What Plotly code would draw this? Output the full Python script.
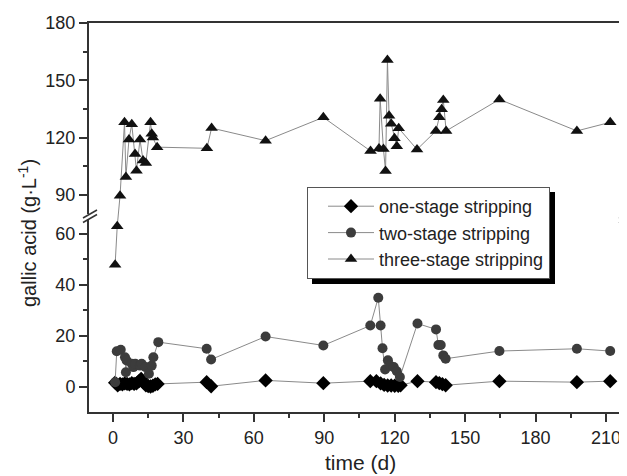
import plotly.graph_objects as go

# ---------------- data ----------------
days_one = [0.9, 2, 3, 4, 5, 6, 7, 8, 9, 10, 11, 12, 13, 14, 15, 16, 17, 18, 19,
            39.9, 41.8, 65.0, 89.6, 109.6, 112.2, 114, 115.5, 117, 118.5, 120, 121.5, 122.5,
            129.7, 137.6, 139, 140.3, 141.7, 164.6, 197.6, 211.8]
vals_one = [1.5, 0.5, 1.0, 0.8, 1.2, 1.0, 0.8, 1.3, 1.0, 1.2, 2.0, 3.0, 1.5, 0.5, 0.2, 0.0, 0.3, 0.8, 1.0,
            1.7, 0.1, 2.4, 1.3, 2.1, 2.1, 1.2, 0.6, 0.4, 0.4, 0.3, 0.3, 0.5,
            2.1, 1.7, 1.3, 0.9, 0.5, 2.1, 1.7, 2.1]

days_two = [0.9, 1.6, 3.3, 5.1, 5.5, 5.8, 8.0, 8.7, 9.5, 11.5, 12.2, 13.9, 15.3, 16.5, 17.2, 19.3,
            39.9, 41.8, 65.0, 89.6, 109.6, 113.0, 114.0, 114.8, 115.9, 117.1, 118.0, 119.6, 120.9, 122.2,
            129.7, 137.6, 138.6, 139.6, 140.7, 141.7, 164.6, 197.6, 211.8]
vals_two = [1.7, 13.8, 14.4, 11.5, 5.6, 10.2, 8.9, 7.6, 8.9, 8.2, 8.9, 7.6, 5.0, 8.2, 11.5, 17.4,
            14.8, 10.6, 19.6, 16.1, 23.9, 34.8, 23.9, 15.0, 6.7, 10.3, 8.2, 7.6, 6.0, 3.7,
            24.7, 22.4, 16.3, 16.3, 12.2, 10.9, 13.9, 14.8, 13.9]

days_three = [0.9, 1.8, 3.0, 4.9, 5.5, 6.8, 8.0, 9.4, 10.0, 11.5, 12.8, 14.0, 16.0, 16.5, 17.0, 18.8,
              40.0, 42.0, 65.0, 89.6, 109.7, 113.3, 113.8, 115.2, 116.1, 116.9, 117.6, 118.5, 119.9, 120.9, 121.7,
              129.5, 137.6, 139.0, 140.0, 140.7, 141.9, 164.6, 197.6, 211.8]
vals_three = [47.7, 62.8, 89.6, 128, 99.4, 119, 127, 111.4, 102.6, 119, 108, 106.7, 128, 122, 120, 115,
              114.4, 125, 118.4, 130.6, 113, 114.3, 140.3, 114, 102.5, 160.6, 131.4, 127.3, 119.6, 115.5, 124.9,
              113.8, 123.5, 130.6, 134.8, 139.7, 123.5, 140, 123.5, 128]

x_ticks = [0, 30, 60, 90, 120, 150, 180, 210]
y_ticks = [0, 20, 40, 60, 90, 120, 150, 180]
y_minor = [10, 30, 50, 105, 135, 165]

# ---------------- broken-axis scale ----------------
LOW_MIN, LOW_MAX, LOW_K = -10, 65, 2.55     # lower segment
UP_MIN, UP_MAX, UP_K = 80, 180, 1.91        # upper segment
GAP = 6.75


def brk(v):
    if v <= 72:
        return (v - LOW_MIN) * LOW_K
    return (LOW_MAX - LOW_MIN) * LOW_K + GAP + (v - UP_MIN) * UP_K


Y_TOP = brk(UP_MAX)

# page has an 8px body margin; figure sized so it fits the 627x476 window
OFF = 8
W, H = 627 - OFF, 476 - OFF
# plot area in page pixels
PL, PR, PT, PB = 89, 627, 23, 412
ML, MR, MT, MB = PL - OFF, (W + OFF) - PR, PT - OFF, (H + OFF) - PB
PW, PH = PR - PL, PB - PT


def px(x):
    return (x - PL) / PW


def py(y):
    return (PB - y) / PH


FONT = "Liberation Sans, Arial, sans-serif"
LINE = "#8a8a8a"

fig = go.Figure()
fig.add_trace(go.Scatter(
    x=days_one, y=[brk(v) for v in vals_one], mode="lines+markers",
    name="one-stage stripping",
    line=dict(color=LINE, width=1),
    marker=dict(symbol="diamond", size=11, color="#000000")))
fig.add_trace(go.Scatter(
    x=days_two, y=[brk(v) for v in vals_two], mode="lines+markers",
    name="two-stage stripping",
    line=dict(color=LINE, width=1),
    marker=dict(symbol="circle", size=10, color="#3c3c3c")))
fig.add_trace(go.Scatter(
    x=days_three, y=[brk(v) for v in vals_three], mode="lines+markers",
    name="three-stage stripping",
    line=dict(color=LINE, width=1),
    marker=dict(symbol="triangle-up", size=11, color="#111111")))

shapes = []
# legend shadow
shapes.append(dict(type="rect", xref="paper", yref="paper",
                   x0=px(312), x1=px(555), y0=py(284), y1=py(192),
                   fillcolor="#000000", line=dict(width=0), layer="above"))
# left axis break
shapes.append(dict(type="rect", xref="paper", yref="paper",
                   x0=px(86), x1=px(92), y0=py(219.5), y1=py(214),
                   fillcolor="white", line=dict(width=0), layer="above"))
for dy in (0, 4.5):
    shapes.append(dict(type="line", xref="paper", yref="paper",
                       x0=px(83), x1=px(97), y0=py(222.5 - dy), y1=py(214.5 - dy),
                       line=dict(color="#333", width=1.5), layer="above"))
# right axis break (cropped)
for dy in (0, 4.5):
    shapes.append(dict(type="line", xref="paper", yref="paper",
                       x0=px(619), x1=px(627), y0=py(223 - dy), y1=py(218 - dy),
                       line=dict(color="#333", width=1.5), layer="above"))

fig.update_layout(
    width=W, height=H,
    margin=dict(l=ML, r=MR, t=MT, b=MB, pad=0, autoexpand=False),
    paper_bgcolor="white", plot_bgcolor="white",
    font=dict(family=FONT, size=18, color="#222"),
    showlegend=True,
    legend=dict(x=px(307), y=py(187), xanchor="left", yanchor="top",
                bgcolor="white", bordercolor="#555", borderwidth=1,
                font=dict(family=FONT, size=18, color="#222"),
                itemwidth=46, indentation=15, tracegroupgap=0),
    xaxis=dict(range=[-10.22, 218.95], tickmode="array", tickvals=x_ticks,
               ticks="outside", ticklen=8, tickwidth=1.5, tickcolor="#333",
               minor=dict(dtick=15, tick0=0, ticks="outside", ticklen=4, tickwidth=1.5, tickcolor="#333"),
               showline=True, linewidth=2, linecolor="#333", mirror=True,
               showgrid=False, zeroline=False, automargin=False,
               tickfont=dict(family=FONT, size=18, color="#222")),
    yaxis=dict(range=[0, Y_TOP], tickmode="array",
               tickvals=[brk(v) for v in y_ticks], ticktext=[str(v) for v in y_ticks],
               ticks="outside", ticklen=8, tickwidth=1.5, tickcolor="#333",
               minor=dict(tickmode="array", tickvals=[brk(v) for v in y_minor],
                          ticks="outside", ticklen=4, tickwidth=1.5, tickcolor="#333"),
               showline=True, linewidth=2, linecolor="#333", mirror=False,
               showgrid=False, zeroline=False, automargin=False,
               tickfont=dict(family=FONT, size=18, color="#222")),
    shapes=shapes,
    annotations=[
        dict(text="gallic acid (g·L<sup>-1</sup>)", xref="paper", yref="paper",
             x=px(27), y=py(233), textangle=-90, showarrow=False,
             xanchor="center", yanchor="middle",
             font=dict(family=FONT, size=20, color="#222")),
        dict(text="time (d)", xref="paper", yref="paper",
             x=px(360), y=py(462), showarrow=False,
             xanchor="center", yanchor="middle",
             font=dict(family=FONT, size=21, color="#222")),
    ],
)

fig.write_html("out.html")
